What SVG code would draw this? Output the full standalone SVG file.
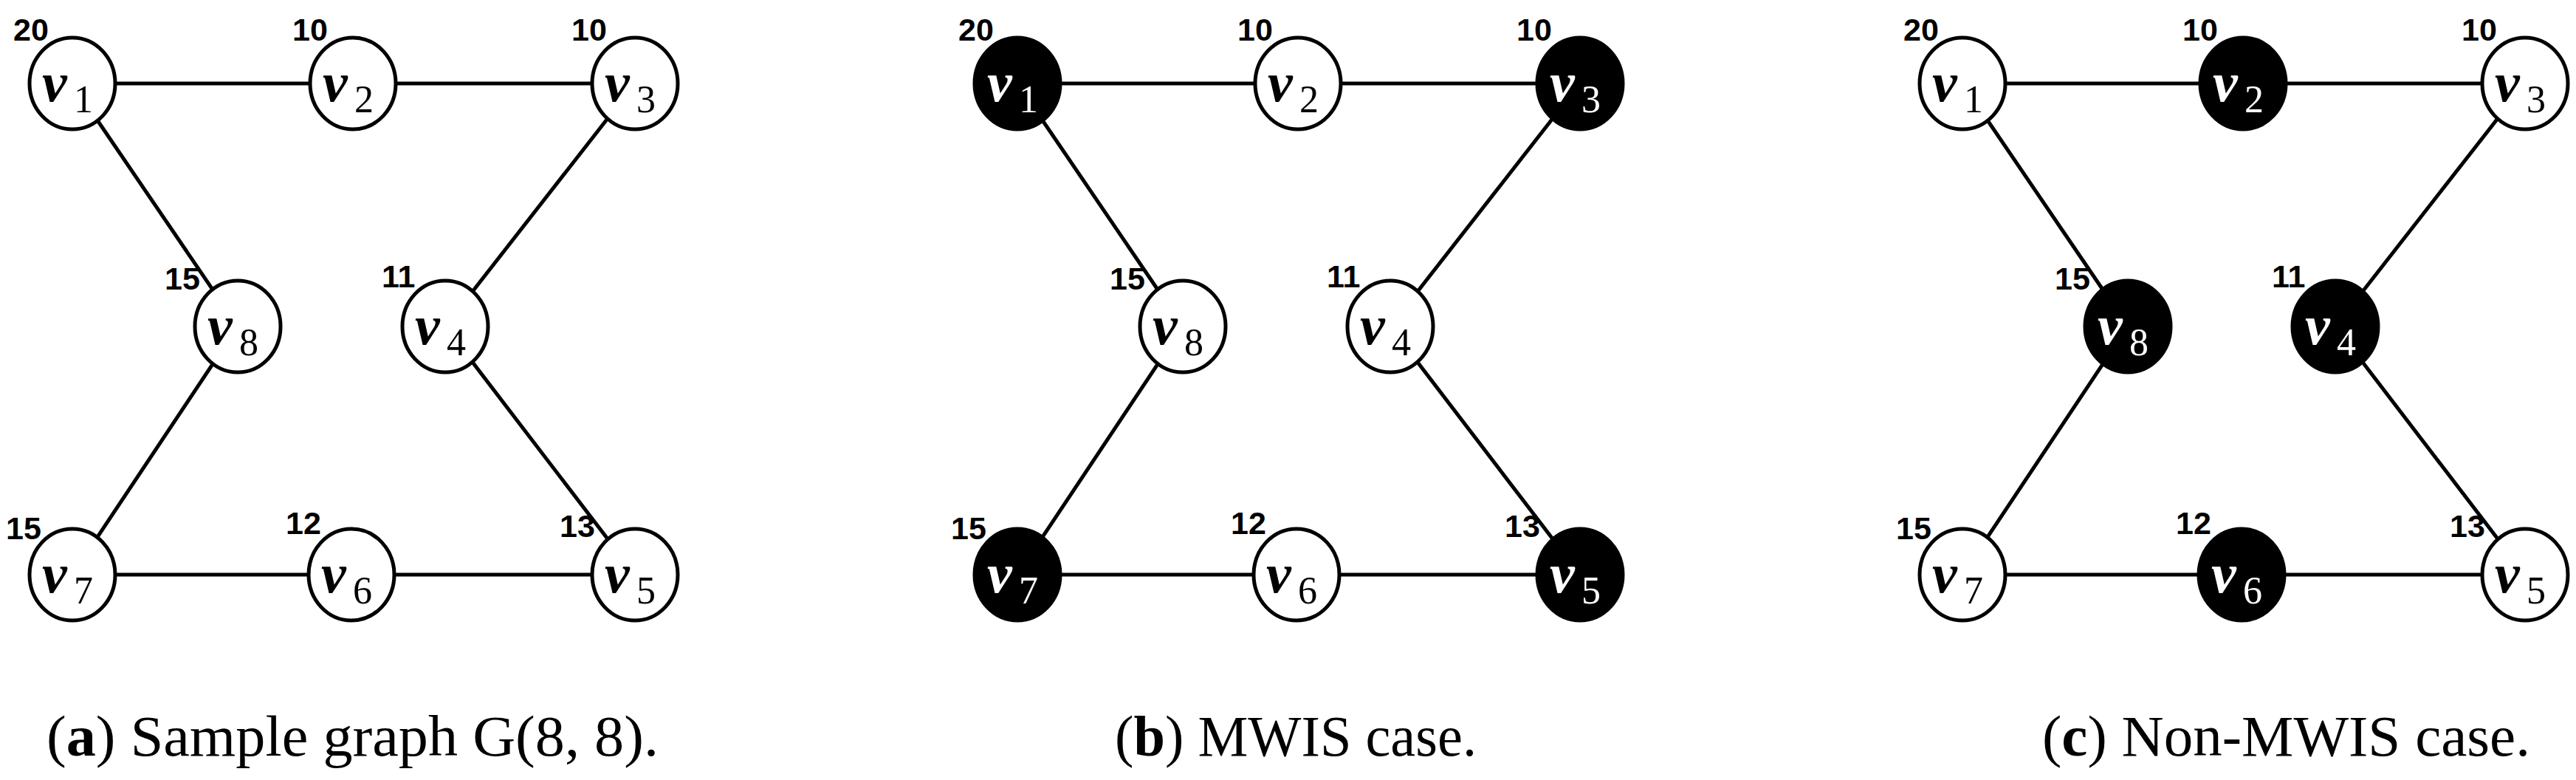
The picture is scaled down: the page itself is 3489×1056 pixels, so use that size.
<svg xmlns="http://www.w3.org/2000/svg" width="3489" height="1056" viewBox="0 0 3489 1056">
<style>
.e{stroke:#000;stroke-width:5;fill:none}
.n{stroke:#000;stroke-width:5;fill:#fff}
.f{stroke:#000;stroke-width:5;fill:#000}
.w{font-family:"Liberation Sans",Arial,sans-serif;font-weight:bold;font-size:43px;fill:#000}
.v{font-family:"Liberation Serif","Times New Roman",serif;font-style:italic;font-weight:bold;font-size:76px}
.s{font-family:"Liberation Serif","Times New Roman",serif;font-size:52px}
.cap{font-family:"Liberation Serif","Times New Roman",serif;font-size:78px;fill:#000}
</style>
<rect width="3489" height="1056" fill="#fff"/>
<defs>
<g id="edges">
<line class="e" x1="98" y1="113" x2="478" y2="113"/>
<line class="e" x1="478" y1="113" x2="860" y2="113"/>
<line class="e" x1="98" y1="113" x2="322" y2="442"/>
<line class="e" x1="860" y1="113" x2="603" y2="442"/>
<line class="e" x1="322" y1="442" x2="98" y2="778"/>
<line class="e" x1="603" y1="442" x2="860" y2="778"/>
<line class="e" x1="98" y1="778" x2="476" y2="778"/>
<line class="e" x1="476" y1="778" x2="860" y2="778"/>
</g>
<g id="weights">
<text class="w" x="18" y="55">20</text>
<text class="w" x="396" y="55">10</text>
<text class="w" x="774" y="55">10</text>
<text class="w" x="223" y="392">15</text>
<text class="w" x="517" y="389">11</text>
<text class="w" x="8" y="730">15</text>
<text class="w" x="387" y="723">12</text>
<text class="w" x="758" y="727">13</text>
</g>
</defs>

<!-- Panel a -->
<g id="connectors-a"><use href="#edges"/></g>
<use href="#weights"/>
<g id="a-v1"><ellipse class="n" cx="98" cy="113" rx="58" ry="62"/><text x="57" y="137"><tspan class="v">v</tspan><tspan class="s" x="100" y="152">1</tspan></text></g>
<g id="a-v2"><ellipse class="n" cx="478" cy="113" rx="58" ry="62"/><text x="437" y="137"><tspan class="v">v</tspan><tspan class="s" x="480" y="152">2</tspan></text></g>
<g id="a-v3"><ellipse class="n" cx="860" cy="113" rx="58" ry="62"/><text x="819" y="137"><tspan class="v">v</tspan><tspan class="s" x="862" y="152">3</tspan></text></g>
<g id="a-v8"><ellipse class="n" cx="322" cy="442" rx="58" ry="62"/><text x="281" y="466"><tspan class="v">v</tspan><tspan class="s" x="324" y="481">8</tspan></text></g>
<g id="a-v4"><ellipse class="n" cx="603" cy="442" rx="58" ry="62"/><text x="562" y="466"><tspan class="v">v</tspan><tspan class="s" x="605" y="481">4</tspan></text></g>
<g id="a-v7"><ellipse class="n" cx="98" cy="778" rx="58" ry="62"/><text x="57" y="802"><tspan class="v">v</tspan><tspan class="s" x="100" y="817">7</tspan></text></g>
<g id="a-v6"><ellipse class="n" cx="476" cy="778" rx="58" ry="62"/><text x="435" y="802"><tspan class="v">v</tspan><tspan class="s" x="478" y="817">6</tspan></text></g>
<g id="a-v5"><ellipse class="n" cx="860" cy="778" rx="58" ry="62"/><text x="819" y="802"><tspan class="v">v</tspan><tspan class="s" x="862" y="817">5</tspan></text></g>
<text class="cap" x="63" y="1023" textLength="829" lengthAdjust="spacingAndGlyphs">(<tspan font-weight="bold">a</tspan>) Sample graph G(8, 8).</text>

<!-- Panel b -->
<g transform="translate(1280,0)">
<g id="connectors-b"><use href="#edges"/></g>
<use href="#weights"/>
<g id="b-v1"><ellipse class="f" cx="98" cy="113" rx="58" ry="62"/><text x="57" y="137" fill="#fff"><tspan class="v">v</tspan><tspan class="s" x="100" y="152">1</tspan></text></g>
<g id="b-v2"><ellipse class="n" cx="478" cy="113" rx="58" ry="62"/><text x="437" y="137"><tspan class="v">v</tspan><tspan class="s" x="480" y="152">2</tspan></text></g>
<g id="b-v3"><ellipse class="f" cx="860" cy="113" rx="58" ry="62"/><text x="819" y="137" fill="#fff"><tspan class="v">v</tspan><tspan class="s" x="862" y="152">3</tspan></text></g>
<g id="b-v8"><ellipse class="n" cx="322" cy="442" rx="58" ry="62"/><text x="281" y="466"><tspan class="v">v</tspan><tspan class="s" x="324" y="481">8</tspan></text></g>
<g id="b-v4"><ellipse class="n" cx="603" cy="442" rx="58" ry="62"/><text x="562" y="466"><tspan class="v">v</tspan><tspan class="s" x="605" y="481">4</tspan></text></g>
<g id="b-v7"><ellipse class="f" cx="98" cy="778" rx="58" ry="62"/><text x="57" y="802" fill="#fff"><tspan class="v">v</tspan><tspan class="s" x="100" y="817">7</tspan></text></g>
<g id="b-v6"><ellipse class="n" cx="476" cy="778" rx="58" ry="62"/><text x="435" y="802"><tspan class="v">v</tspan><tspan class="s" x="478" y="817">6</tspan></text></g>
<g id="b-v5"><ellipse class="f" cx="860" cy="778" rx="58" ry="62"/><text x="819" y="802" fill="#fff"><tspan class="v">v</tspan><tspan class="s" x="862" y="817">5</tspan></text></g>
<text class="cap" x="230" y="1023" textLength="490" lengthAdjust="spacingAndGlyphs">(<tspan font-weight="bold">b</tspan>) MWIS case.</text>
</g>

<!-- Panel c -->
<g transform="translate(2560,0)">
<g id="connectors-c"><use href="#edges"/></g>
<use href="#weights"/>
<g id="c-v1"><ellipse class="n" cx="98" cy="113" rx="58" ry="62"/><text x="57" y="137"><tspan class="v">v</tspan><tspan class="s" x="100" y="152">1</tspan></text></g>
<g id="c-v2"><ellipse class="f" cx="478" cy="113" rx="58" ry="62"/><text x="437" y="137" fill="#fff"><tspan class="v">v</tspan><tspan class="s" x="480" y="152">2</tspan></text></g>
<g id="c-v3"><ellipse class="n" cx="860" cy="113" rx="58" ry="62"/><text x="819" y="137"><tspan class="v">v</tspan><tspan class="s" x="862" y="152">3</tspan></text></g>
<g id="c-v8"><ellipse class="f" cx="322" cy="442" rx="58" ry="62"/><text x="281" y="466" fill="#fff"><tspan class="v">v</tspan><tspan class="s" x="324" y="481">8</tspan></text></g>
<g id="c-v4"><ellipse class="f" cx="603" cy="442" rx="58" ry="62"/><text x="562" y="466" fill="#fff"><tspan class="v">v</tspan><tspan class="s" x="605" y="481">4</tspan></text></g>
<g id="c-v7"><ellipse class="n" cx="98" cy="778" rx="58" ry="62"/><text x="57" y="802"><tspan class="v">v</tspan><tspan class="s" x="100" y="817">7</tspan></text></g>
<g id="c-v6"><ellipse class="f" cx="476" cy="778" rx="58" ry="62"/><text x="435" y="802" fill="#fff"><tspan class="v">v</tspan><tspan class="s" x="478" y="817">6</tspan></text></g>
<g id="c-v5"><ellipse class="n" cx="860" cy="778" rx="58" ry="62"/><text x="819" y="802"><tspan class="v">v</tspan><tspan class="s" x="862" y="817">5</tspan></text></g>
<text class="cap" x="206" y="1023" textLength="661" lengthAdjust="spacingAndGlyphs">(<tspan font-weight="bold">c</tspan>) Non-MWIS case.</text>
</g>
</svg>
